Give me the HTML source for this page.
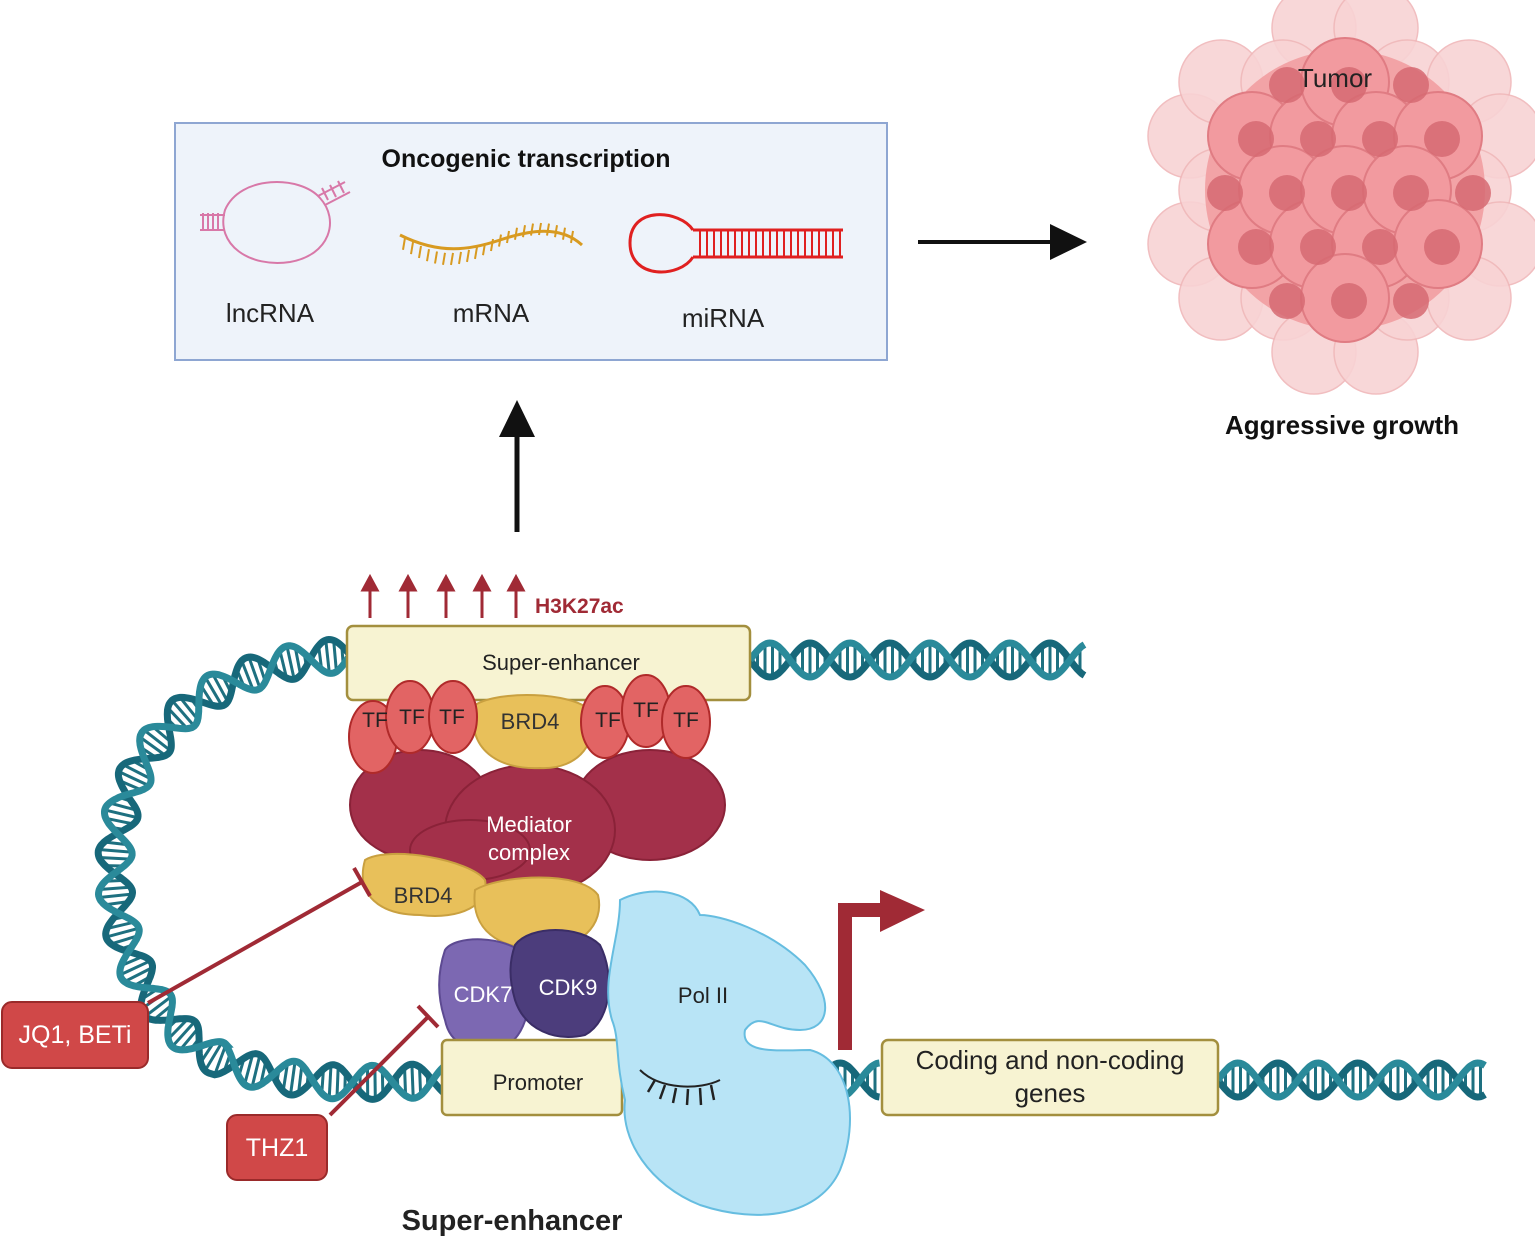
<!DOCTYPE html>
<html><head><meta charset="utf-8"><style>
html,body{margin:0;padding:0;background:#fff}
svg{display:block;font-family:"Liberation Sans",Arial,sans-serif}
</style></head><body>
<svg id="s" width="1535" height="1238" viewBox="0 0 1535 1238" xmlns="http://www.w3.org/2000/svg">
<!-- top box -->
<rect x="175" y="123" width="712" height="237" fill="#eef3fa" stroke="#8ea6d2" stroke-width="2"/>
<text x="526" y="167" font-size="25" font-weight="bold" text-anchor="middle" fill="#111">Oncogenic transcription</text>
<g stroke="#d878a8" stroke-width="2" fill="none">
<path d="M320 198 C300 175 240 175 225 210 C215 245 250 268 290 262 C330 255 340 220 320 198 Z"/>
<path d="M200 215 L225 215 M200 230 L225 230"/>
<path d="M203 213 v18 M208 213 v18 M213 213 v18 M218 213 v18"/>
<path d="M318 196 L345 182 M325 205 L350 192 M322 188 l6 12 M330 185 l6 12 M338 181 l6 12"/>
</g>
<path d="M400 235 C440 255 470 250 500 240 C530 230 560 225 582 245" stroke="#d89a20" stroke-width="3" fill="none"/>
<g stroke="#d89a20" stroke-width="2" id="mr"></g>
<path d="M693 230 C680 210 630 205 630 243 C630 280 680 278 693 257" stroke="#e02020" stroke-width="3" fill="none"/>
<path d="M693 230 H843 M693 257 H843" stroke="#e02020" stroke-width="3"/>
<g stroke="#e02020" stroke-width="2" id="mi"></g>
<text x="270" y="322" font-size="26" text-anchor="middle" fill="#222">lncRNA</text>
<text x="491" y="322" font-size="26" text-anchor="middle" fill="#222">mRNA</text>
<text x="723" y="327" font-size="26" text-anchor="middle" fill="#222">miRNA</text>
<line x1="918" y1="242" x2="1055" y2="242" stroke="#111" stroke-width="4"/>
<polygon points="1050,224 1087,242 1050,260" fill="#111"/>
<g id="tumor"></g>
<text x="1335" y="87" font-size="26" text-anchor="middle" fill="#222">Tumor</text>
<text x="1342" y="434" font-size="26" font-weight="bold" text-anchor="middle" fill="#111">Aggressive growth</text>
<line x1="517" y1="532" x2="517" y2="430" stroke="#111" stroke-width="5"/>
<polygon points="499,437 517,400 535,437" fill="#111"/>
<g stroke="#a02a35" stroke-width="3" fill="#a02a35">
<line x1="370" y1="618" x2="370" y2="588"/><polygon points="363,590 370,577 377,590"/>
<line x1="408" y1="618" x2="408" y2="588"/><polygon points="401,590 408,577 415,590"/>
<line x1="446" y1="618" x2="446" y2="588"/><polygon points="439,590 446,577 453,590"/>
<line x1="482" y1="618" x2="482" y2="588"/><polygon points="475,590 482,577 489,590"/>
<line x1="516" y1="618" x2="516" y2="588"/><polygon points="509,590 516,577 523,590"/>
</g>
<text x="535" y="613" font-size="21" font-weight="bold" fill="#a02a35">H3K27ac</text>
<g id="dna"></g>
<path id="loop" d="M350 655 C250 660 160 700 125 800 C95 900 130 1010 220 1060 C300 1090 380 1082 445 1080" fill="none" stroke="none"/>
<rect x="347" y="626" width="403" height="74" rx="6" fill="#f7f3d2" stroke="#a38f3e" stroke-width="2.5"/>
<text x="561" y="670" font-size="22" text-anchor="middle" fill="#222">Super-enhancer</text>
<g fill="#a3304a" stroke="#8a2238" stroke-width="2">
<ellipse cx="420" cy="805" rx="70" ry="55"/>
<ellipse cx="650" cy="805" rx="75" ry="55"/>
<ellipse cx="530" cy="830" rx="85" ry="65"/>
<ellipse cx="470" cy="850" rx="60" ry="30"/>
</g>
<path d="M475 705 C500 690 570 692 590 710 C600 740 580 770 540 768 C500 770 465 750 475 705 Z" fill="#e8c05a" stroke="#c9a040" stroke-width="2"/>
<text x="530" y="729" font-size="22" text-anchor="middle" fill="#333">BRD4</text>
<g fill="#e26464" stroke="#b02a2a" stroke-width="2">
<ellipse cx="373" cy="737" rx="24" ry="36"/>
<ellipse cx="410" cy="717" rx="24" ry="36"/>
<ellipse cx="453" cy="717" rx="24" ry="36"/>
<ellipse cx="605" cy="722" rx="24" ry="36"/>
<ellipse cx="646" cy="711" rx="24" ry="36"/>
<ellipse cx="686" cy="722" rx="24" ry="36"/>
</g>
<g font-size="21" fill="#222" text-anchor="middle">
<text x="375" y="727">TF</text><text x="412" y="724">TF</text><text x="452" y="724">TF</text>
<text x="608" y="727">TF</text><text x="646" y="717">TF</text><text x="686" y="727">TF</text>
</g>
<text x="529" y="832" font-size="22" text-anchor="middle" fill="#fff">Mediator</text>
<text x="529" y="860" font-size="22" text-anchor="middle" fill="#fff">complex</text>
<path d="M365 860 C390 845 470 860 485 880 C490 905 460 920 420 915 C380 915 355 895 365 860 Z" fill="#e8c05a" stroke="#c9a040" stroke-width="2"/>
<text x="423" y="903" font-size="22" text-anchor="middle" fill="#333">BRD4</text>
<path d="M475 890 C500 875 580 870 598 895 C605 925 580 950 540 948 C500 950 470 930 475 890 Z" fill="#e8c05a" stroke="#c9a040" stroke-width="2"/>
<path d="M445 950 C455 935 505 935 525 955 C535 990 530 1040 500 1048 C470 1052 450 1045 445 1020 C435 990 440 965 445 950 Z" fill="#7c68b2" stroke="#5d4a92" stroke-width="2"/>
<path d="M515 945 C530 925 580 925 600 945 C615 975 612 1020 585 1035 C555 1042 525 1030 515 1000 C508 975 510 960 515 945 Z" fill="#4c3d7c" stroke="#3a2d66" stroke-width="2"/>
<text x="483" y="1002" font-size="22" text-anchor="middle" fill="#fff">CDK7</text>
<text x="568" y="995" font-size="22" text-anchor="middle" fill="#fff">CDK9</text>
<rect x="442" y="1040" width="180" height="75" rx="5" fill="#f7f3d2" stroke="#a38f3e" stroke-width="2.5"/>
<text x="538" y="1090" font-size="22" text-anchor="middle" fill="#222">Promoter</text>
<path d="M620 900 C650 885 690 890 700 915 C720 915 770 930 805 965 C835 1000 830 1030 800 1030 C770 1030 760 1010 745 1030 C740 1055 780 1050 810 1050 C850 1060 860 1120 840 1170 C820 1215 760 1225 700 1205 C650 1185 620 1140 625 1100 C615 1060 620 1040 612 1020 C600 980 620 940 620 900 Z" fill="#b8e4f6" stroke="#66bde0" stroke-width="2"/>
<text x="703" y="1003" font-size="22" text-anchor="middle" fill="#222">Pol II</text>
<path d="M640 1070 C660 1090 700 1090 720 1080" stroke="#222" stroke-width="2" fill="none"/>
<g stroke="#222" stroke-width="2.5"><line x1="655" y1="1080" x2="648" y2="1092"/><line x1="665" y1="1085" x2="660" y2="1099"/><line x1="676" y1="1088" x2="673" y2="1103"/><line x1="688" y1="1089" x2="687" y2="1105"/><line x1="700" y1="1088" x2="701" y2="1105"/><line x1="711" y1="1085" x2="714" y2="1100"/></g>
<rect x="882" y="1040" width="336" height="75" rx="6" fill="#f7f3d2" stroke="#a38f3e" stroke-width="2.5"/>
<text x="1050" y="1069" font-size="26" text-anchor="middle" fill="#222">Coding and non-coding</text>
<text x="1050" y="1102" font-size="26" text-anchor="middle" fill="#222">genes</text>
<path d="M845 1050 V910 H885" stroke="#a02a35" stroke-width="14" fill="none"/>
<polygon points="880,890 925,910 880,932" fill="#a02a35"/>
<g stroke="#a02a35" stroke-width="4">
<line x1="148" y1="1003" x2="362" y2="882"/><line x1="354" y1="868" x2="370" y2="896"/>
<line x1="330" y1="1115" x2="428" y2="1017"/><line x1="418" y1="1006" x2="438" y2="1027"/>
</g>
<rect x="2" y="1002" width="146" height="66" rx="10" fill="#d04848" stroke="#9a2a2a" stroke-width="2"/>
<text x="75" y="1043" font-size="25" text-anchor="middle" fill="#fff">JQ1, BETi</text>
<rect x="227" y="1115" width="100" height="65" rx="10" fill="#d04848" stroke="#9a2a2a" stroke-width="2"/>
<text x="277" y="1156" font-size="25" text-anchor="middle" fill="#fff">THZ1</text>
<text x="512" y="1230" font-size="29" font-weight="bold" text-anchor="middle" fill="#222">Super-enhancer</text>
</svg>
<script>
var NS="http://www.w3.org/2000/svg";
function el(p,t,a){var e=document.createElementNS(NS,t);for(var k in a)e.setAttribute(k,a[k]);p.appendChild(e);return e;}
var mr=document.getElementById('mr');
for(var x=405;x<578;x+=8){var t=(x-400)/182;var y=235+ (t<0.55? 20*Math.sin(t/0.55*Math.PI)*0.9:-12*Math.sin((t-0.55)/0.45*Math.PI));el(mr,'line',{x1:x,y1:y,x2:x-2,y2:y+12});}
var mi=document.getElementById('mi');
for(var x=700;x<843;x+=7)el(mi,'line',{x1:x,y1:230,x2:x,y2:257});
// tumor
var tg=document.getElementById('tumor');
var cx=1345,cy=190;
var outer=[],inner=[];
for(var i=-4;i<=4;i++)for(var j=-4;j<=4;j++){var x=cx+i*62+(j%2?31:0),y=cy+j*54;var d=Math.hypot(x-cx,y-cy);
 if(d<115)inner.push([x,y]);else if(d<185)outer.push([x,y]);}
outer.forEach(function(p){el(tg,'circle',{cx:p[0],cy:p[1],r:42,fill:'#f8d3d4',stroke:'#f0b8ba','stroke-width':1.5,opacity:0.9});});
el(tg,'circle',{cx:cx,cy:cy,r:140,fill:'#f2a3a6'});
inner.forEach(function(p){el(tg,'circle',{cx:p[0],cy:p[1],r:44,fill:'#f29a9f',stroke:'#e07c83','stroke-width':2});});
inner.concat(outer.filter(function(p){return Math.hypot(p[0]-cx,p[1]-cy)<150;})).forEach(function(p){el(tg,'circle',{cx:p[0]+4,cy:p[1]+3,r:18,fill:'#d66a72',opacity:0.85});});
// DNA
var dg=document.getElementById('dna');
function helix(pts){
 var a='',b='';var amp=17,per=80;
 for(var i=0;i<pts.length;i++){var p=pts[i],ph=Math.sin(p[4]/per*2*Math.PI);
  var xa=p[0]+p[2]*amp*ph,ya=p[1]+p[3]*amp*ph,xb=p[0]-p[2]*amp*ph,yb=p[1]-p[3]*amp*ph;
  a+=(i?'L':'M')+xa.toFixed(1)+' '+ya.toFixed(1);b+=(i?'L':'M')+xb.toFixed(1)+' '+yb.toFixed(1);
  if(i%5==0)el(dg,'line',{x1:xa,y1:ya,x2:xb,y2:yb,stroke:'#1e7080','stroke-width':3});}
 el(dg,'path',{d:a,stroke:'#17687a','stroke-width':7,fill:'none'});
 el(dg,'path',{d:b,stroke:'#2a8a9a','stroke-width':7,fill:'none'});
}
function line(x1,x2,y){var p=[];for(var x=x1;x<=x2;x+=1.5)p.push([x,y,0,1,x-x1]);helix(p);}
var lp=document.getElementById('loop');var L=lp.getTotalLength();var p=[];
for(var s=0;s<=L;s+=1.5){var q=lp.getPointAtLength(s),q2=lp.getPointAtLength(Math.min(L,s+1));var dx=q2.x-q.x,dy=q2.y-q.y,n=Math.hypot(dx,dy)||1;p.push([q.x,q.y,-dy/n,dx/n,s]);}
helix(p);
line(750,1085,660);line(620,880,1080);line(1218,1485,1080);
</script>
</body></html>
